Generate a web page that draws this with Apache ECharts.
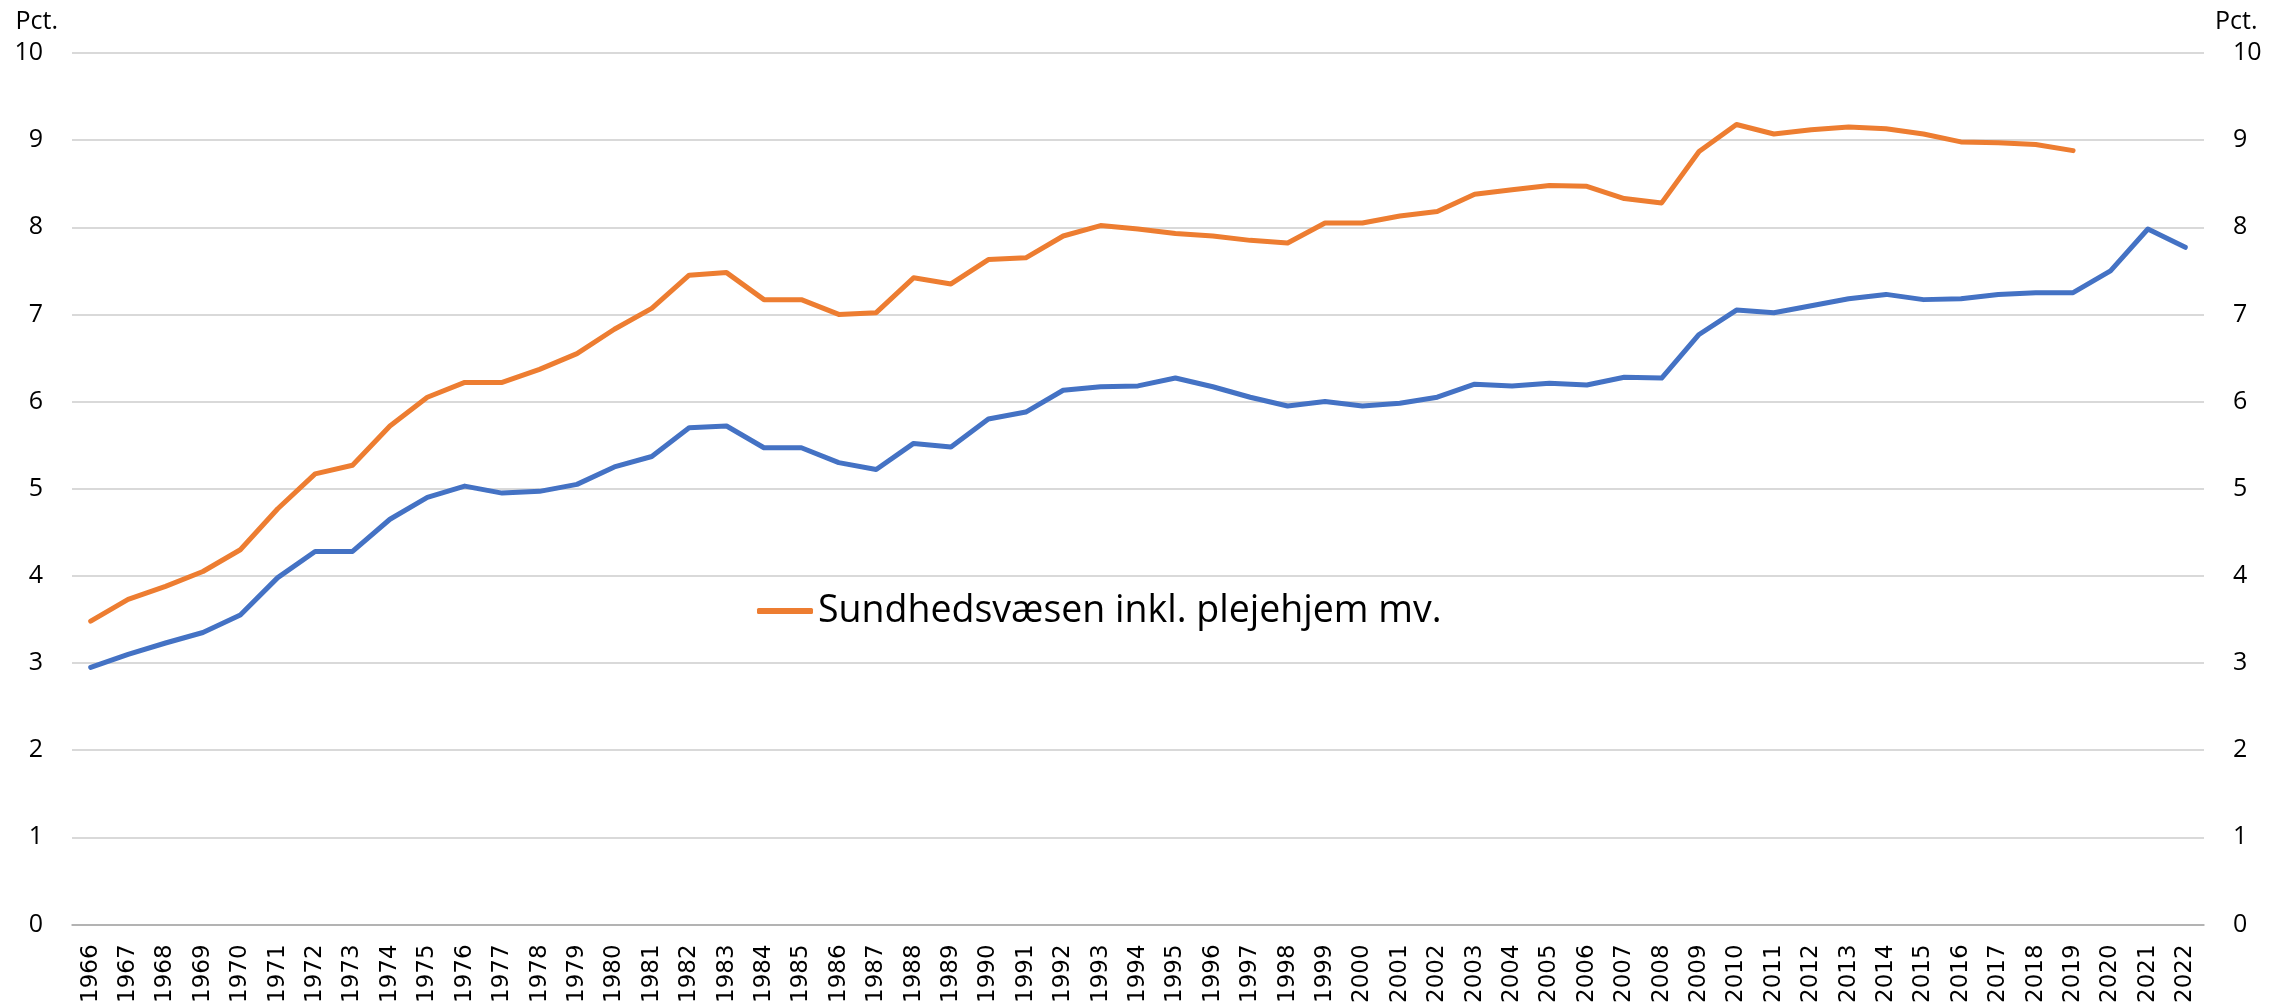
<html>
  <body style="margin:0">
    <div id="chart" style="width:2282px;height:1006px;"></div>
  </body>
  <script src="https://cdn.jsdelivr.net/npm/echarts@6/dist/echarts.min.js"></script>
  <script>

// years on the x axis
var years = [];
for (var y = 1966; y <= 2022; y++) {
  years.push(String(y));
}

// orange line, ends in 2019
var sundhedPleje = [
  3.48, 3.73, 3.88, 4.05, 4.30, 4.77, 5.17, 5.27, 5.72, 6.05,
  6.22, 6.22, 6.37, 6.55, 6.83, 7.07, 7.45, 7.48, 7.17, 7.17,
  7.00, 7.02, 7.42, 7.35, 7.63, 7.65, 7.90, 8.02, 7.98, 7.93,
  7.90, 7.85, 7.82, 8.05, 8.05, 8.13, 8.18, 8.38, 8.43, 8.48,
  8.47, 8.33, 8.28, 8.87, 9.18, 9.07, 9.12, 9.15, 9.13, 9.07,
  8.98, 8.97, 8.95, 8.88
];

// blue line, runs to 2022
var sundhed = [
  2.95, 3.10, 3.23, 3.35, 3.55, 3.98, 4.28, 4.28, 4.65, 4.90,
  5.03, 4.95, 4.97, 5.05, 5.25, 5.37, 5.70, 5.72, 5.47, 5.47,
  5.30, 5.22, 5.52, 5.48, 5.80, 5.88, 6.13, 6.17, 6.18, 6.27,
  6.17, 6.05, 5.95, 6.00, 5.95, 5.98, 6.05, 6.20, 6.18, 6.21,
  6.19, 6.28, 6.27, 6.77, 7.05, 7.02, 7.10, 7.18, 7.23, 7.17,
  7.18, 7.23, 7.25, 7.25, 7.50, 7.98, 7.77
];

var chart = echarts.init(document.getElementById('chart'));

var yLabel = {
  color: '#000',
  fontFamily: 'Open Sans',
  fontSize: 25
};

var option = {
  animation: false,
  backgroundColor: '#fff',
  grid: {
    left: 72,
    right: 78,
    top: 53,
    bottom: 81
  },
  legend: {
    data: ['Sundhedsvæsen inkl. plejehjem mv.'],
    left: 752,
    top: 587,
    icon: 'roundRect',
    itemWidth: 56,
    itemHeight: 6,
    textStyle: {
      color: '#000',
      fontFamily: 'Open Sans',
      fontSize: 37.5
    }
  },
  xAxis: {
    type: 'category',
    data: years,
    boundaryGap: true,
    axisLine: { lineStyle: { color: '#a6a6a6', width: 1.5 } },
    axisTick: { show: false },
    axisLabel: {
      rotate: 90,
      interval: 0,
      margin: 20,
      color: '#000',
      fontFamily: 'DejaVu Sans',
      fontSize: 23
    }
  },
  yAxis: [
    {
      type: 'value',
      min: 0,
      max: 10,
      interval: 1,
      position: 'left',
      name: 'Pct.',
      nameLocation: 'end',
      nameGap: 31,
      nameTextStyle: {
        color: '#000',
        fontFamily: 'Open Sans',
        fontSize: 25,
        align: 'right',
        verticalAlign: 'middle',
        padding: [0, 14, 0, 0]
      },
      axisLine: { show: false },
      axisTick: { show: false },
      axisLabel: Object.assign({ margin: 29 }, yLabel),
      splitLine: { lineStyle: { color: '#d9d9d9', width: 2 } }
    },
    {
      type: 'value',
      min: 0,
      max: 10,
      interval: 1,
      position: 'right',
      name: 'Pct.',
      nameLocation: 'end',
      nameGap: 31,
      nameTextStyle: {
        color: '#000',
        fontFamily: 'Open Sans',
        fontSize: 25,
        align: 'left',
        verticalAlign: 'middle',
        padding: [0, 0, 0, 11]
      },
      axisLine: { show: false },
      axisTick: { show: false },
      axisLabel: Object.assign({ margin: 29 }, yLabel),
      splitLine: { show: false }
    }
  ],
  series: [
    {
      name: 'Sundhedsvæsen inkl. plejehjem mv.',
      type: 'line',
      data: sundhedPleje,
      showSymbol: false,
      color: '#ED7D31',
      lineStyle: { width: 5, color: '#ED7D31', cap: 'round', join: 'round' }
    },
    {
      name: 'Sundhedsvæsen',
      type: 'line',
      data: sundhed,
      showSymbol: false,
      color: '#4472C4',
      lineStyle: { width: 5, color: '#4472C4', cap: 'round', join: 'round' }
    }
  ]
};

chart.setOption(option);

  </script>
</html>
